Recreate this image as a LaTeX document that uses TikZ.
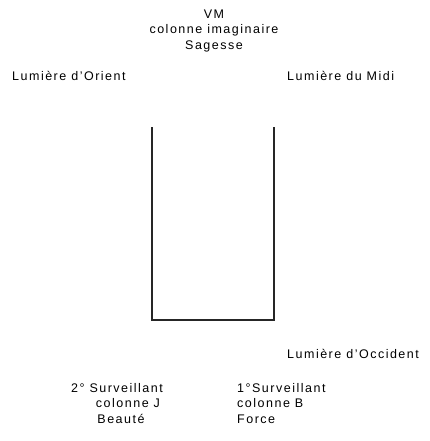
\documentclass[tikz,border=0pt]{standalone}
\usepackage{fontspec}
\setmainfont{Liberation Sans}[LetterSpace=12]
\begin{document}
\begin{tikzpicture}[x=1pt,y=-1pt,
  lbl/.style={inner sep=0pt,font=\fontsize{12.5}{14}\selectfont},
  wall/.style={line width=1.3pt,draw=black!85}]
\useasboundingbox[fill=white] (0,0) rectangle (429,441);
\node[lbl] (vm) at (214,14) {VM};
\node[lbl] (ci) at (214,30) {colonne imaginaire};
\node[lbl] (sag) at (214,46) {Sagesse};
\node[lbl,anchor=west] (orient) at (12,76) {Lumière d'Orient};
\node[lbl,anchor=west] (midi) at (287,76) {Lumière du Midi};
\node[lbl,anchor=west] (occ) at (287,354) {Lumière d'Occident};
\node[lbl] (s2) at (117,388) {2° Surveillant};
\node[lbl] (cj) at (128,403) {colonne J};
\node[lbl] (beau) at (121,419) {Beauté};
\node[lbl,anchor=west] (s1) at (237,388) {1°Surveillant};
\node[lbl,anchor=west] (cb) at (237,403) {colonne B};
\node[lbl,anchor=west] (force) at (237,419) {Force};
\coordinate (tl) at (152,127);
\coordinate (bl) at (152,320);
\coordinate (br) at (274,320);
\coordinate (tr) at (274,127);
\draw[wall] (tl) -- (bl) -- (br) -- (tr);
\end{tikzpicture}
\end{document}
